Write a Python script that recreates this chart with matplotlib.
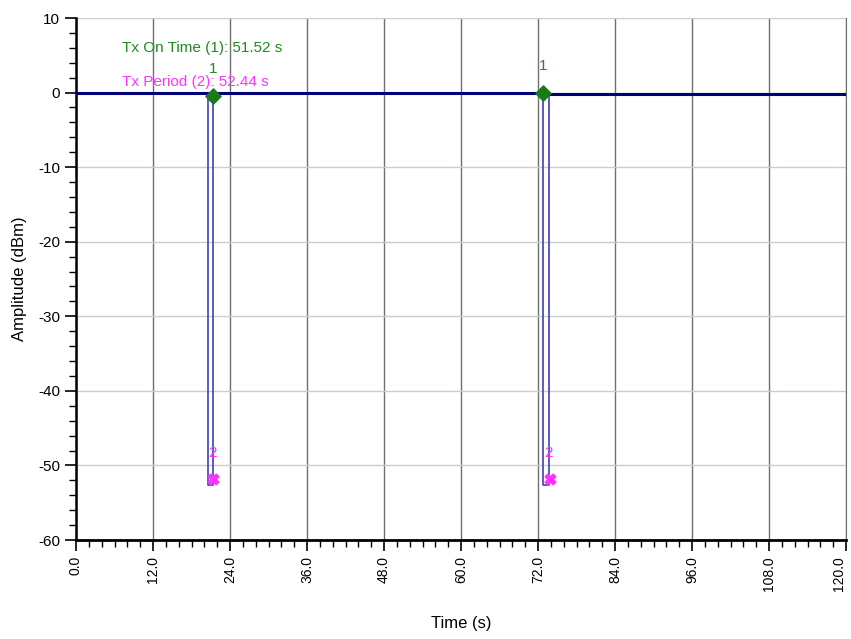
import matplotlib.pyplot as plt
from matplotlib.ticker import MultipleLocator

plt.rcParams['font.family'] = ['Liberation Sans', 'DejaVu Sans']

# trace corner points (time s, amplitude dBm)
trace_t = [0.0, 20.6, 20.6, 21.4, 21.4, 72.8, 72.8, 73.7, 73.7, 120.0]
trace_a = [0.0, 0.0, -52.6, -52.6, 0.0, 0.0, -52.6, -52.6, -0.2, -0.2]

# markers
m1_t = [21.35, 72.85]
m1_a = [-0.5, 0.0]
m2_t = [21.35, 73.8]
m2_a = [-51.8, -51.8]

on_time_label = "Tx On Time (1): 51.52 s"
period_label = "Tx Period (2): 52.44 s"

x_ticks = [0, 12, 24, 36, 48, 60, 72, 84, 96, 108, 120]
y_ticks = [10, 0, -10, -20, -30, -40, -50, -60]

green = '#1f8a1f'
magenta = '#ff33ff'

fig = plt.figure(figsize=(8.51, 6.39), dpi=100)
ax = fig.add_axes([76 / 851, 1 - 540 / 639, 770 / 851, 522 / 639])

ax.plot(trace_t, trace_a, color='#4040c0', lw=1.2, zorder=3)
# flat parts drawn heavier like the noisy dark trace
ax.plot(trace_t[:2], trace_a[:2], color='#00007a', lw=2.2, zorder=4)
ax.plot(trace_t[4:6], trace_a[4:6], color='#00007a', lw=2.2, zorder=4)
ax.plot(trace_t[8:], trace_a[8:], color='#00007a', lw=2.2, zorder=4)

ax.scatter(m1_t, m1_a, marker='D', s=60, color='#1a7a1a', zorder=5)
ax.scatter(m2_t, m2_a, marker='X', s=60, color=magenta, zorder=5)
for t, a in zip(m1_t, m1_a):
    ax.text(t, a + 3.6, '1', color=green, fontsize=11, ha='center', va='center')
for t, a in zip(m2_t, m2_a):
    ax.text(t - 0.1, a + 3.4, '2', color=magenta, fontsize=11, ha='center', va='center')

ax.text(7.2, 6.0, on_time_label, color=green, fontsize=11, va='center')
ax.text(7.2, 1.4, period_label, color=magenta, fontsize=11, va='center')

ax.set_xlim(0, 120)
ax.set_ylim(-60, 10)
ax.set_xticks(x_ticks)
xlabels = ax.set_xticklabels([f"{v:.1f}" for v in x_ticks], rotation=90, fontsize=10)
xlabels[-1].set_ha('right')  # keep last label inside the figure
ax.set_yticks(y_ticks)
ax.set_yticklabels([str(v) for v in y_ticks], fontsize=11)
ax.xaxis.set_minor_locator(MultipleLocator(2))
ax.yaxis.set_minor_locator(MultipleLocator(2))
ax.tick_params(which='major', length=8, width=1.2, color='black')
ax.tick_params(which='minor', length=5, width=1, color='black')

ax.grid(axis='x', which='major', color='#707070', lw=1)
ax.grid(axis='y', which='major', color='#c8cfc8', lw=1)

ax.spines['top'].set_visible(False)
ax.spines['right'].set_color('#707070')
ax.spines['left'].set_linewidth(1.8)
ax.spines['bottom'].set_linewidth(2)

ax.set_xlabel('Time (s)', fontsize=12, labelpad=18)
ax.set_ylabel('Amplitude (dBm)', fontsize=12, labelpad=8)

fig.savefig('out.png', dpi=100)
